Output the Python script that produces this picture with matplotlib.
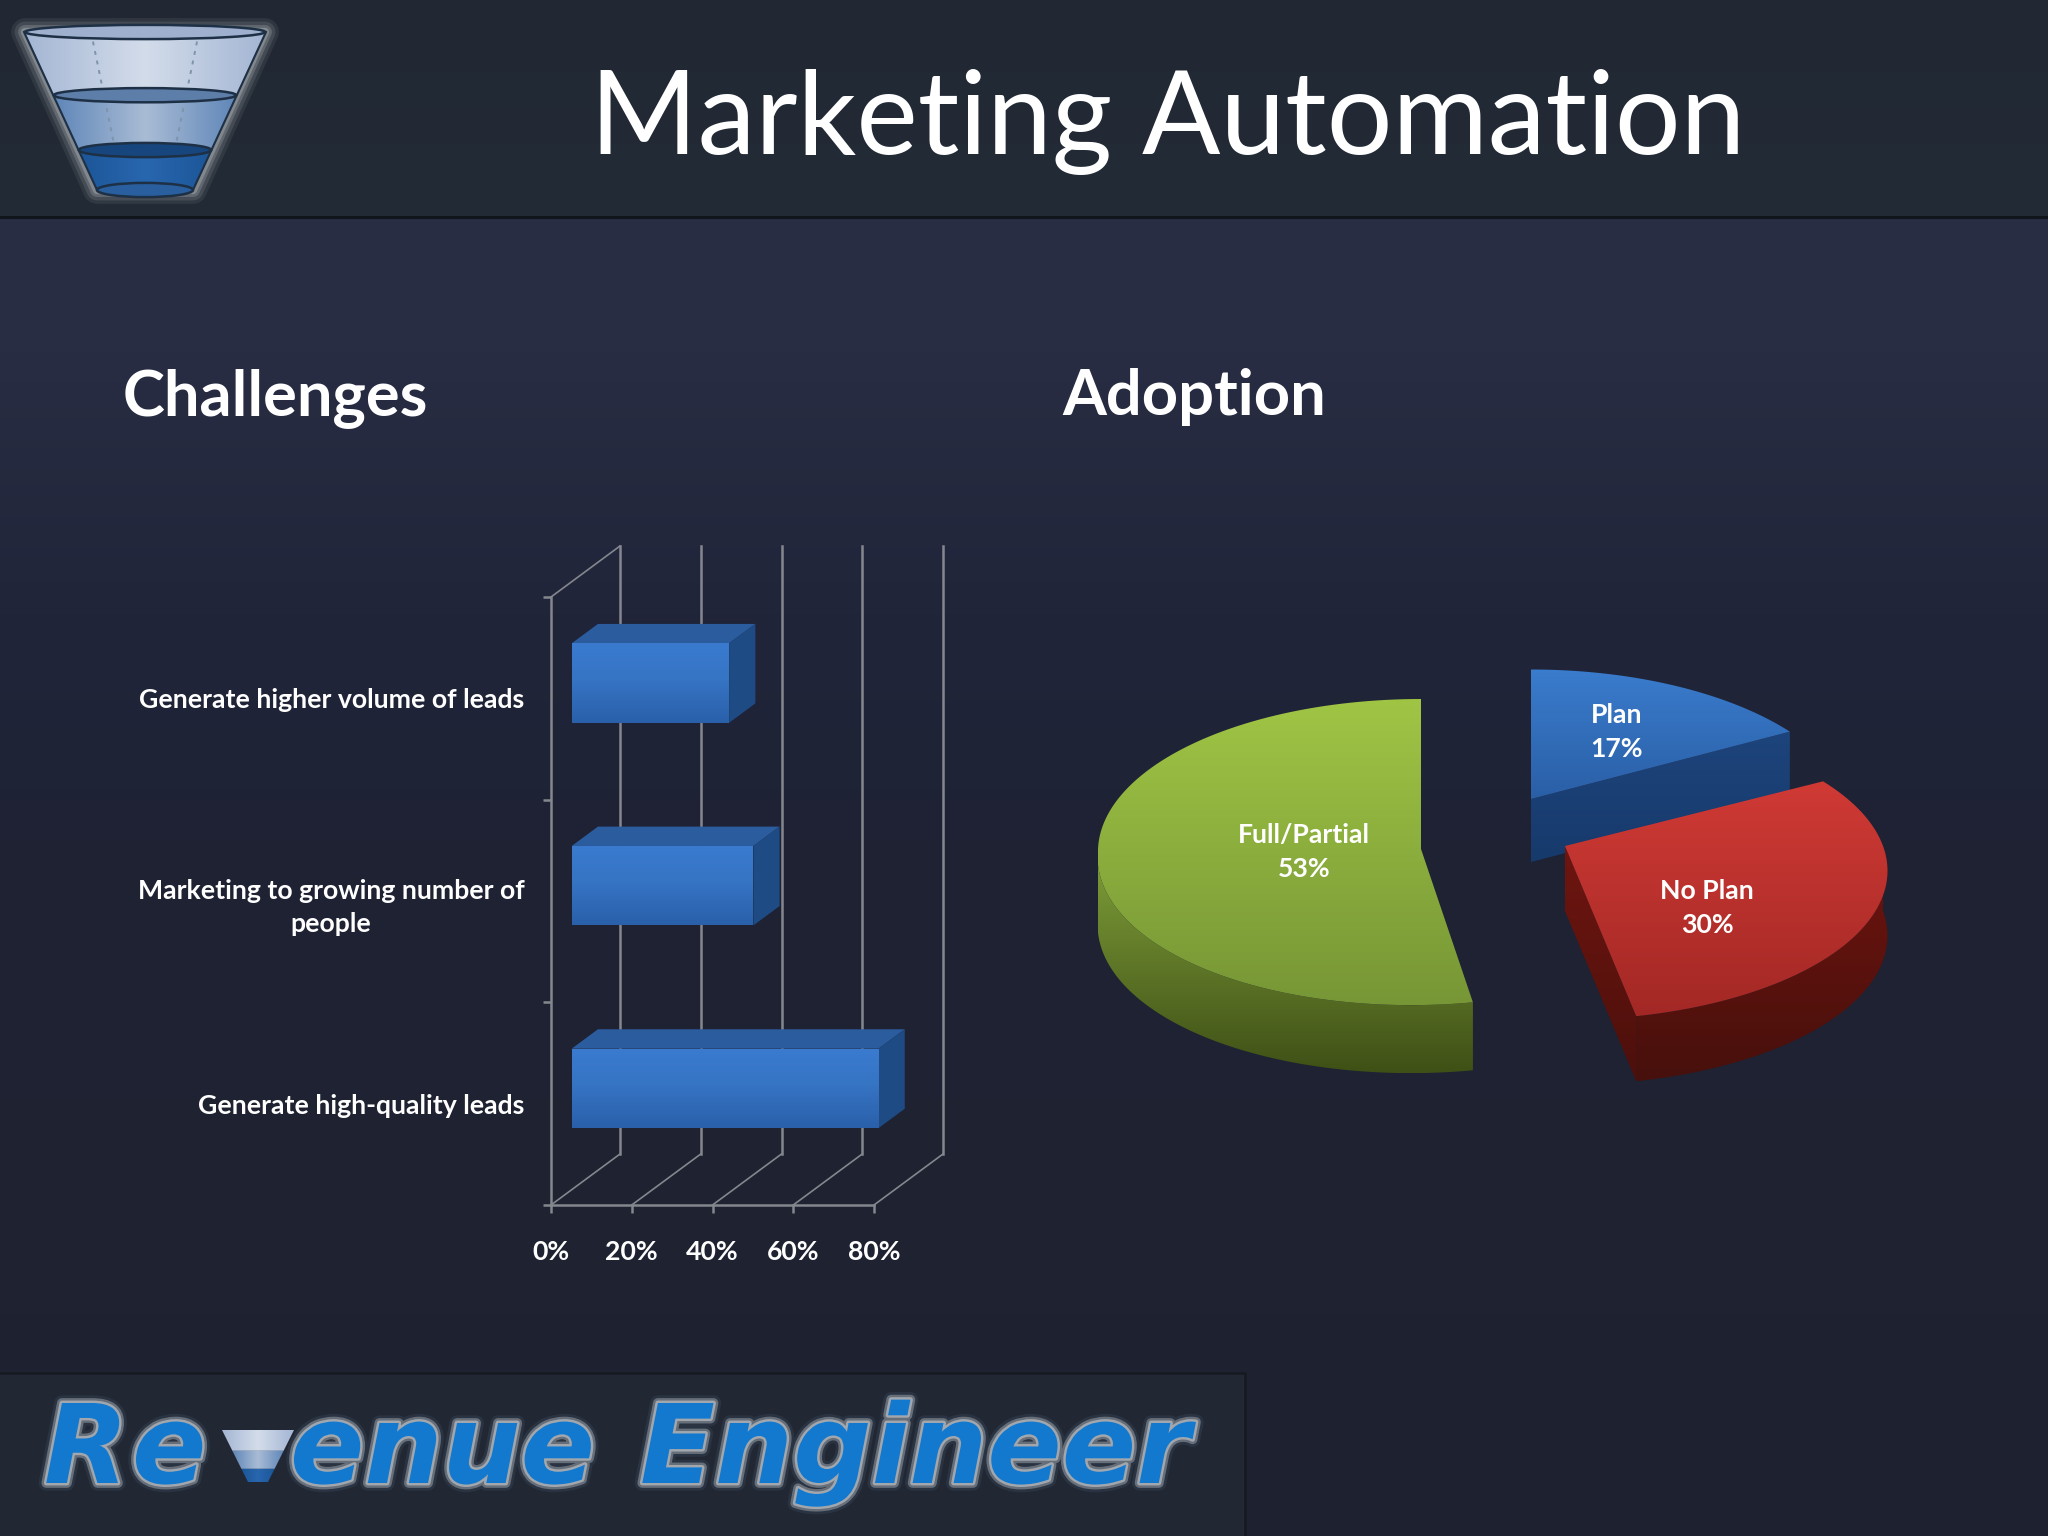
import numpy as np
import matplotlib
matplotlib.use("Agg")
import matplotlib.pyplot as plt
import matplotlib.patheffects as pe
from matplotlib.colors import to_rgb
from matplotlib.patches import Polygon, Ellipse, Rectangle
from matplotlib.transforms import Affine2D, IdentityTransform

plt.rcParams['font.family'] = ['Lato', 'DejaVu Sans']

# data
categories = ["Generate high-quality leads", "Marketing to growing number of\npeople", "Generate higher volume of leads"]
challenge_values = [76, 45, 39]
x_ticks = [0, 20, 40, 60, 80]
x_tick_labels = ["0%", "20%", "40%", "60%", "80%"]
pie_labels = ["Plan", "No Plan", "Full/Partial"]
pie_values = [17, 30, 53]

W, H = 2048, 1536
fig = plt.figure(figsize=(W / 100, H / 100), dpi=100)

bg = fig.add_axes([0, 0, 1, 1], zorder=0)
fg = fig.add_axes([0, 0, 1, 1], zorder=2)
for a in (bg, fg):
    a.set_xlim(0, W)
    a.set_ylim(H, 0)
    a.set_autoscale_on(False)
    a.axis("off")
    a.patch.set_alpha(0)


def ramp(stops, n=256):
    # stops = [(pos, colour), ...]
    pos = [s[0] for s in stops]
    cols = np.array([to_rgb(s[1]) for s in stops])
    t = np.linspace(0, 1, n)
    return np.stack([np.interp(t, pos, cols[:, i]) for i in range(3)], axis=1)


def grad_fill(a, pts, stops, horizontal=False, z=2):
    pts = np.asarray(pts)
    patch = Polygon(pts, closed=True, transform=a.transData, fc="none", ec="none")
    a.add_patch(patch)
    g = ramp(stops)
    g = g[np.newaxis, :, :] if horizontal else g[:, np.newaxis, :]
    extent = (pts[:, 0].min(), pts[:, 0].max(), pts[:, 1].max(), pts[:, 1].min())
    im = a.imshow(g, extent=extent, aspect="auto", origin="upper", zorder=z, interpolation="bilinear")
    im.set_clip_path(patch)
    return im


# background
bg.imshow(ramp([(0, "#282d44"), (0.1, "#282d43"), (0.3, "#20253a"), (0.5, "#1e2233"), (1, "#1e2230")])[:, np.newaxis, :],
          extent=(0, W, H, 217), aspect="auto", zorder=0)
grad_fill(bg, [(0, 0), (W, 0), (W, 216), (0, 216)], [(0, "#212833"), (1, "#232b36")], z=1)
bg.plot([0, W], [217, 217], color="#10141b", lw=2.2, zorder=2)
bg.add_patch(Rectangle((0, 1373), 1245, H - 1373, fc="#222833", ec="none", zorder=1))
bg.plot([0, 1245, 1245], [1373, 1373, H], color="#151921", lw=1.8, zorder=2)


# funnel icon
def funnel(a, cx, top, bottom, half_top, half_bot, z=3, detail=True):
    h = bottom - top

    def hw(y):
        return half_top + (half_bot - half_top) * (y - top) / h

    outline = [(cx - half_top, top), (cx + half_top, top), (cx + half_bot, bottom), (cx - half_bot, bottom)]
    if detail:
        for lw, al in [(20, 0.12), (15, 0.2), (10, 0.35), (6, 0.6)]:
            a.add_patch(Polygon(outline, closed=True, fc="#8a9094", ec="#9a9fa3", lw=lw, alpha=al,
                                joinstyle="round", zorder=z))
    y1 = top + 0.40 * h
    y2 = top + 0.747 * h
    sects = [(top, y1, "#a4b6d4", "#d3dcea"), (y1, y2, "#5f86b8", "#a9bcd5"), (y2, bottom, "#1c5698", "#2866ae")]
    for ya, yb, edge, mid in sects:
        grad_fill(a, [(cx - hw(ya), ya), (cx + hw(ya), ya), (cx + hw(yb), yb), (cx - hw(yb), yb)],
                  [(0, edge), (0.5, mid), (1, edge)], horizontal=True, z=z + 1)
    if detail:
        for y, col in [(top, "#9fb0ce"), (y1, "#5d7ea9"), (y2, "#17467f"), (bottom, "#2a5f9f")]:
            a.add_patch(Ellipse((cx, y), 2 * hw(y), 0.09 * h, fc=col, ec="#1d3045", lw=1.8, zorder=z + 2))
        a.plot([cx - hw(top) - 1, cx - hw(bottom)], [top, bottom], color="#1d3045", lw=1.5, zorder=z + 3)
        a.plot([cx + hw(top) + 1, cx + hw(bottom)], [top, bottom], color="#1d3045", lw=1.5, zorder=z + 3)
        for sgn in (-1, 1):
            a.plot([cx + sgn * 0.45 * hw(top), cx + sgn * 0.45 * hw(y2)], [top, y2], color="#7f93ad", lw=1.4,
                   ls=(0, (2, 3)), zorder=z + 1.5)


funnel(bg, 145, 32, 190, 120, 48)

# headings
fg.text(1168, 154, "Marketing Automation", color="white", fontsize=83.5, ha="center", va="baseline")
fg.text(123, 415, "Challenges", color="white", fontsize=45.5, fontweight="bold", ha="left", va="baseline")
fg.text(1062, 415, "Adoption", color="white", fontsize=45.5, fontweight="bold", ha="left", va="baseline")

# bar chart, axes box is the front plane
ax = fig.add_axes([551 / W, (H - 1205) / H, 323 / W, 608 / H], zorder=1)
ax.patch.set_alpha(0)
grey = "#85878e"
for s in ("top", "right"):
    ax.spines[s].set_visible(False)
for s in ("left", "bottom"):
    ax.spines[s].set_color(grey)
    ax.spines[s].set_linewidth(1.8)
ax.set_xticks(x_ticks)
ax.set_xticklabels(x_tick_labels, color="white", fontsize=19.2, fontweight="bold")
ax.set_yticks([0, 1, 2, 3])
ax.set_yticklabels([])
ax.set_yticks(np.arange(len(categories)) + 0.5, labels=categories, minor=True, color="white",
              fontsize=19.2, fontweight="bold", ha="right", multialignment="center", linespacing=1.45)
ax.tick_params(axis="y", which="minor", length=0, pad=19)
ax.tick_params(axis="y", which="major", length=6, width=1.8, color=grey)
ax.tick_params(axis="x", length=6, width=1.8, color=grey, pad=19.5)
ax.set_xlim(0, 80)
ax.set_ylim(0, 3)

DX, DY = 69, 51
wall = ax.transData + Affine2D().translate(DX, DY)
for t in x_ticks:
    ax.plot([t, t], [0, 3], color=grey, lw=1.8, transform=wall, clip_on=False)


def to_px(v, c, depth=0.0):
    x, y = ax.transData.transform((v, c))
    return x + depth * DX, H - (y + depth * DY)


floor = [(t, 0) for t in x_ticks] + [(0, 3)]
for v, c in floor:
    p0 = to_px(v, c)
    p1 = to_px(v, c, 1)
    ax.plot([p0[0], p1[0]], [H - p0[1], H - p1[1]], color=grey, lw=1.2, transform=IdentityTransform(), clip_on=False)
ax.set_xlim(0, 80)
ax.set_ylim(0, 3)

BAR_H = 0.392
D0, D1 = 0.30, 0.68
for i, val in enumerate(challenge_values):
    lo, hi = i + 0.5 - BAR_H / 2, i + 0.5 + BAR_H / 2
    fg.add_patch(Polygon([to_px(0, hi, D0), to_px(val, hi, D0), to_px(val, hi, D1), to_px(0, hi, D1)],
                         closed=True, fc="#2b5c9e", ec="none", zorder=3))
    fg.add_patch(Polygon([to_px(val, lo, D0), to_px(val, hi, D0), to_px(val, hi, D1), to_px(val, lo, D1)],
                         closed=True, fc="#1f4b85", ec="none", zorder=3))
    grad_fill(fg, [to_px(0, hi, D0), to_px(val, hi, D0), to_px(val, lo, D0), to_px(0, lo, D0)],
              [(0, "#3a7bd0"), (0.45, "#3674c4"), (1, "#2a60aa")], z=4)

# pie, one disc per slice because of the explosion
pie_style = {
    "Plan": dict(cx=1531, cy=799, a=319, b=151, p=0.166, skew=0, depth=63, top=[(0, "#3a7ccd"), (1, "#2a5fa6")],
                 rim=[(0, "#1c4279"), (1, "#163563")], cut=[(0, "#1d447c"), (1, "#173a6c")], lab=(1617, 732), z=6),
    "No Plan": dict(cx=1565, cy=846, a=318, b=145, p=0.166, skew=0, depth=65, top=[(0, "#d03a35"), (1, "#a32825")],
                    rim=[(0, "#70140f"), (1, "#47100c")], cut=[(0, "#6f1510"), (1, "#4c100c")], lab=(1707, 908), z=8),
    "Full/Partial": dict(cx=1421, cy=849, a=323, b=153, p=0.02, skew=10, depth=68, top=[(0, "#a0c545"), (1, "#779636")],
                         rim=[(0, "#80a03a"), (1, "#3f5016")], cut=None, lab=(1304, 852), z=4),
}


def rim_pts(st, theta, drop=0.0):
    X, Y = np.sin(theta), np.cos(theta)
    w = 1 + st["p"] * Y
    return np.column_stack([st["cx"] + st["a"] * X / w + st["skew"] * np.minimum(Y, 0),
                            st["cy"] - st["b"] * Y / w + drop])


start = 0.0
total = sum(pie_values)
for name, val in zip(pie_labels, pie_values):
    t0 = start / total * 2 * np.pi
    t1 = (start + val) / total * 2 * np.pi
    start += val
    st = pie_style[name]
    z = st["z"]
    apex = np.array([[st["cx"], st["cy"]]], float)
    th = np.linspace(t0, t1, 120)
    # outer wall, only the part facing the viewer
    front_lo, front_hi = max(t0, np.pi / 2), min(t1, 3 * np.pi / 2)
    if front_hi > front_lo:
        tf = np.linspace(front_lo, front_hi, 120)
        wall_pts = np.vstack([rim_pts(st, tf), rim_pts(st, tf[::-1], st["depth"])])
        grad_fill(fg, wall_pts, st["rim"], z=z)
    # cut face
    if st["cut"] is not None:
        e = rim_pts(st, np.array([t1]))
        cut = np.vstack([apex, e, e + [0, st["depth"]], apex + [0, st["depth"]]])
        grad_fill(fg, cut, st["cut"], z=z)
    top = np.vstack([apex, rim_pts(st, th)])
    grad_fill(fg, top, st["top"], z=z + 1)
    lx, ly = st["lab"]
    fg.text(lx, ly, "%s\n%d%%" % (name, val), color="white", fontsize=19.2, fontweight="bold",
            ha="center", va="center", linespacing=1.5, zorder=20, multialignment="center")

# logo
blur = [pe.Stroke(linewidth=11, foreground="#3a4a60", alpha=0.35),
        pe.Stroke(linewidth=7, foreground="#8f979f", alpha=0.6),
        pe.Stroke(linewidth=3.5, foreground="#a9aeb4", alpha=0.9), pe.Normal()]
logo = dict(color="#1279cf", fontsize=79, fontweight="bold", style="oblique", family="DejaVu Sans",
            va="baseline", ha="left", path_effects=blur, zorder=5)
fg.text(44, 1483, "R", **logo)
fg.text(132, 1483, "e", **logo)
fg.text(290, 1483, "enue", **logo)
fg.text(640, 1483, "Engineer", **logo)
funnel(fg, 258, 1430, 1482, 36, 10, z=6, detail=False)

fig.savefig("out.png", dpi=100)
